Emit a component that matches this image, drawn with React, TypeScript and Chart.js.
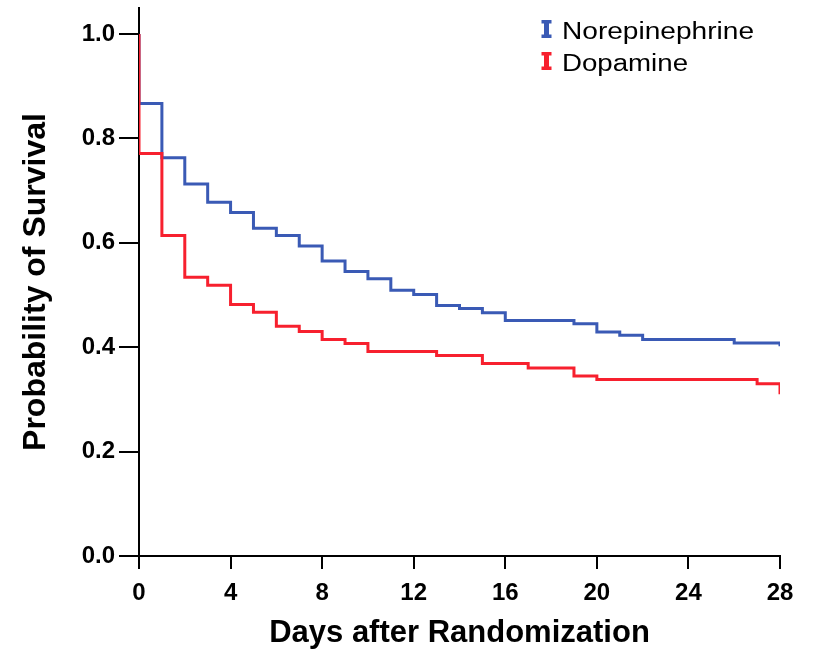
import React, { useEffect, useRef } from 'react';
import { Chart, registerables } from 'chart.js';

Chart.register(...registerables);

// Kaplan-Meier steps (day of event, survival probability after event)
const norDays = [0, 0, 1, 2, 3, 4, 5, 6, 7, 8, 9, 10, 11, 12, 13, 14, 15, 16, 19, 20, 21, 22, 26, 28, 28];
const norSurv = [1.0, 0.867, 0.763, 0.713, 0.678, 0.658, 0.628, 0.614, 0.594, 0.565, 0.545, 0.531, 0.509, 0.501, 0.48, 0.474, 0.466, 0.451, 0.445, 0.429, 0.423, 0.415, 0.408, 0.408, 0.402];

const dopDays = [0, 0, 1, 2, 3, 4, 5, 6, 7, 8, 9, 10, 13, 15, 17, 19, 20, 27, 28, 28];
const dopSurv = [1.0, 0.771, 0.614, 0.534, 0.519, 0.482, 0.467, 0.44, 0.43, 0.415, 0.407, 0.392, 0.384, 0.369, 0.36, 0.345, 0.338, 0.33, 0.33, 0.31];

const xTicks = [0, 4, 8, 12, 16, 20, 24, 28];
const yTicks = [0, 0.2, 0.4, 0.6, 0.8, 1.0];

const seriesNames = ['Norepinephrine', 'Dopamine'];
const seriesColors = ['#3A5AB5', '#F7202E'];

const FONT = "'Liberation Sans', Arial, Helvetica, sans-serif";

export default function App() {
  const ref = useRef<HTMLCanvasElement>(null);

  useEffect(() => {
    document.body.style.margin = '0';
    const canvas = ref.current;
    if (!canvas) return;

    const legendPlugin = {
      id: 'ibeamLegend',
      afterDraw(chart: any) {
        const ctx = chart.ctx as CanvasRenderingContext2D;
        ctx.save();
        seriesNames.forEach((name, i) => {
          const top = 20 + i * 32;
          const cx = 546.5;
          ctx.fillStyle = seriesColors[i];
          ctx.fillRect(cx - 5, top, 10, 3.5);
          ctx.fillRect(cx - 2.5, top, 5, 18);
          ctx.fillRect(cx - 5, top + 14.5, 10, 3.5);
          ctx.fillStyle = '#000';
          ctx.font = `23px ${FONT}`;
          ctx.textBaseline = 'alphabetic';
          ctx.textAlign = 'left';
          const targetW = name === 'Norepinephrine' ? 192 : 126;
          const w = ctx.measureText(name).width;
          const sx = Math.max(1, Math.min(1.25, targetW / w));
          ctx.save();
          ctx.translate(562, top + 19);
          ctx.scale(sx, 1);
          ctx.fillText(name, 0, 0);
          ctx.restore();
        });
        ctx.restore();
      },
    };

    const chart = new Chart(canvas, {
      type: 'line',
      data: {
        datasets: [
          {
            label: seriesNames[1],
            data: dopDays.map((d, i) => ({ x: d, y: dopSurv[i] })),
            borderColor: seriesColors[1],
            backgroundColor: seriesColors[1],
            borderWidth: 3,
            stepped: true,
            pointRadius: 0,
            fill: false,
            order: 0,
            borderJoinStyle: 'miter',
            borderCapStyle: 'butt',
          },
          {
            label: seriesNames[0],
            data: norDays.map((d, i) => ({ x: d, y: norSurv[i] })),
            borderColor: seriesColors[0],
            backgroundColor: seriesColors[0],
            borderWidth: 3,
            stepped: true,
            pointRadius: 0,
            fill: false,
            order: 1,
            borderJoinStyle: 'miter',
            borderCapStyle: 'butt',
          },
        ],
      },
      options: {
        responsive: false,
        animation: false,
        devicePixelRatio: 1,
        layout: { padding: { top: 8, right: 35, bottom: 0, left: 0 } },
        plugins: {
          legend: { display: false },
          tooltip: { enabled: false },
        },
        scales: {
          x: {
            type: 'linear',
            min: 0,
            max: 28,
            ticks: {
              stepSize: 4,
              color: '#000',
              padding: 10,
              maxRotation: 0,
              autoSkip: false,
              font: { family: FONT, size: 24, weight: 'bold' },
            },
            grid: { drawOnChartArea: false, drawTicks: true, tickLength: 13, color: '#000', lineWidth: 2 },
            border: { display: true, color: '#000', width: 2 },
            title: {
              display: true,
              text: 'Days after Randomization',
              color: '#000',
              font: { family: FONT, size: 31, weight: 'bold' },
              padding: { top: 0, bottom: 0 },
            },
            afterBuildTicks: (s: any) => {
              s.ticks = xTicks.map((v) => ({ value: v }));
            },
            afterFit: (s: any) => {
              s.height = 96;
              s.paddingLeft = 0;
              s.paddingRight = 0;
            },
          },
          y: {
            type: 'linear',
            min: 0,
            max: 1.05,
            ticks: {
              color: '#000',
              padding: 4,
              font: { family: FONT, size: 24, weight: 'bold' },
              callback: (v: any) => Number(v).toFixed(1),
            },
            grid: { drawOnChartArea: false, drawTicks: true, tickLength: 20, color: '#000', lineWidth: 2 },
            border: { display: true, color: '#000', width: 2 },
            title: {
              display: true,
              text: 'Probability of Survival',
              color: '#000',
              font: { family: FONT, size: 32, weight: 'bold' },
              padding: { top: 17, bottom: 0 },
            },
            afterBuildTicks: (s: any) => {
              s.ticks = yTicks.map((v) => ({ value: v }));
            },
            afterFit: (s: any) => {
              s.width = 139;
              s.paddingTop = 0;
              s.paddingBottom = 0;
            },
          },
        },
      },
      plugins: [legendPlugin],
    } as any);

    return () => {
      chart.destroy();
    };
  }, []);

  return (
    <div style={{ width: 815, height: 652 }}>
      <canvas ref={ref} width={815} height={652} style={{ display: 'block' }} />
    </div>
  );
}
